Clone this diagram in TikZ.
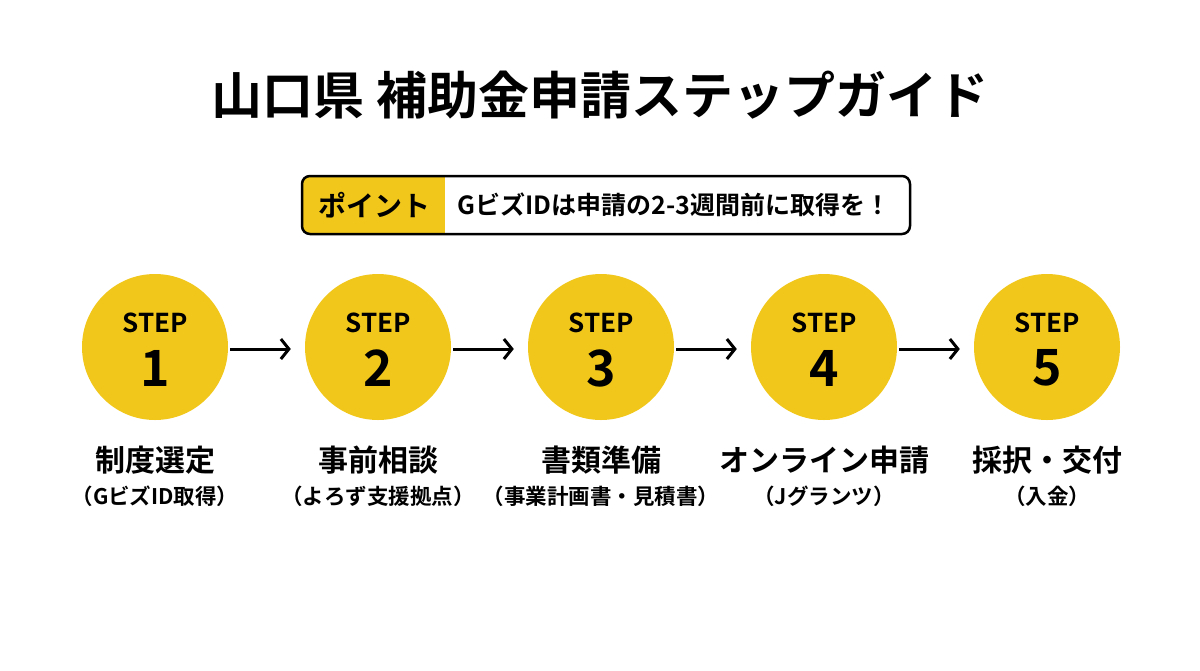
\documentclass[tikz,border=0pt]{standalone}
\usepackage{fontspec}
\setmainfont{Noto Sans CJK JP}[BoldFont={Noto Sans CJK JP Bold}]
\usetikzlibrary{arrows.meta}
\definecolor{yel}{HTML}{F2C71C}
\begin{document}
\begin{tikzpicture}[x=1pt,y=-1pt,
  circ/.style={circle,fill=yel,minimum size=146pt,inner sep=0pt},
  arr/.style={line width=3pt,-{Straight Barb[length=8pt,width=20pt,line width=3pt]}},
  lab/.style={font=\bfseries\fontsize{30}{32}\selectfont},
  sub/.style={font=\bfseries\fontsize{21.5}{24}\selectfont}]
\useasboundingbox[fill=white] (0,0) rectangle (1200,670);
\node[font=\bfseries\fontsize{51}{55}\selectfont] (title) at (600,95) {山口県 補助金申請ステップガイド};
\begin{scope}
\clip[rounded corners=8pt] (302,176) rectangle (910,234);
\fill[yel] (302,176) rectangle (445,234);
\end{scope}
\draw[line width=2.5pt,rounded corners=8pt] (302,176) rectangle (910,234);
\node[font=\bfseries\fontsize{28}{30}\selectfont] (pt) at (374,205) {ポイント};
\node[font=\bfseries\fontsize{25}{27}\selectfont,anchor=west] (ptx) at (454,205) {GビズIDは申請の2-3週間前に取得を！};
\foreach \i/\x/\a/\b in {1/155/制度選定/（GビズID取得）,2/378/事前相談/（よろず支援拠点）,3/601/書類準備/（事業計画書・見積書）,4/824/オンライン申請/（Jグランツ）,5/1047/採択・交付/（入金）}{
  \node[circ] (c\i) at (\x,347) {};
  \node[font=\bfseries\fontsize{26}{28}\selectfont] (s\i) at (\x,323) {STEP};
  \node[font=\bfseries\fontsize{50}{52}\selectfont] (n\i) at (\x,368) {\i};
  \node[lab] (l\i) at (\x,460) {\a};
  \node[sub] (m\i) at (\x,496) {\b};
}
\foreach \i/\j in {1/2,2/3,3/4,4/5}{
  \draw[arr] ([xshift=2pt]c\i.east |- 0,349) coordinate (p\i) -- ([xshift=-14pt]c\j.west |- 0,349) coordinate (q\i);
}
\end{tikzpicture}
\end{document}
